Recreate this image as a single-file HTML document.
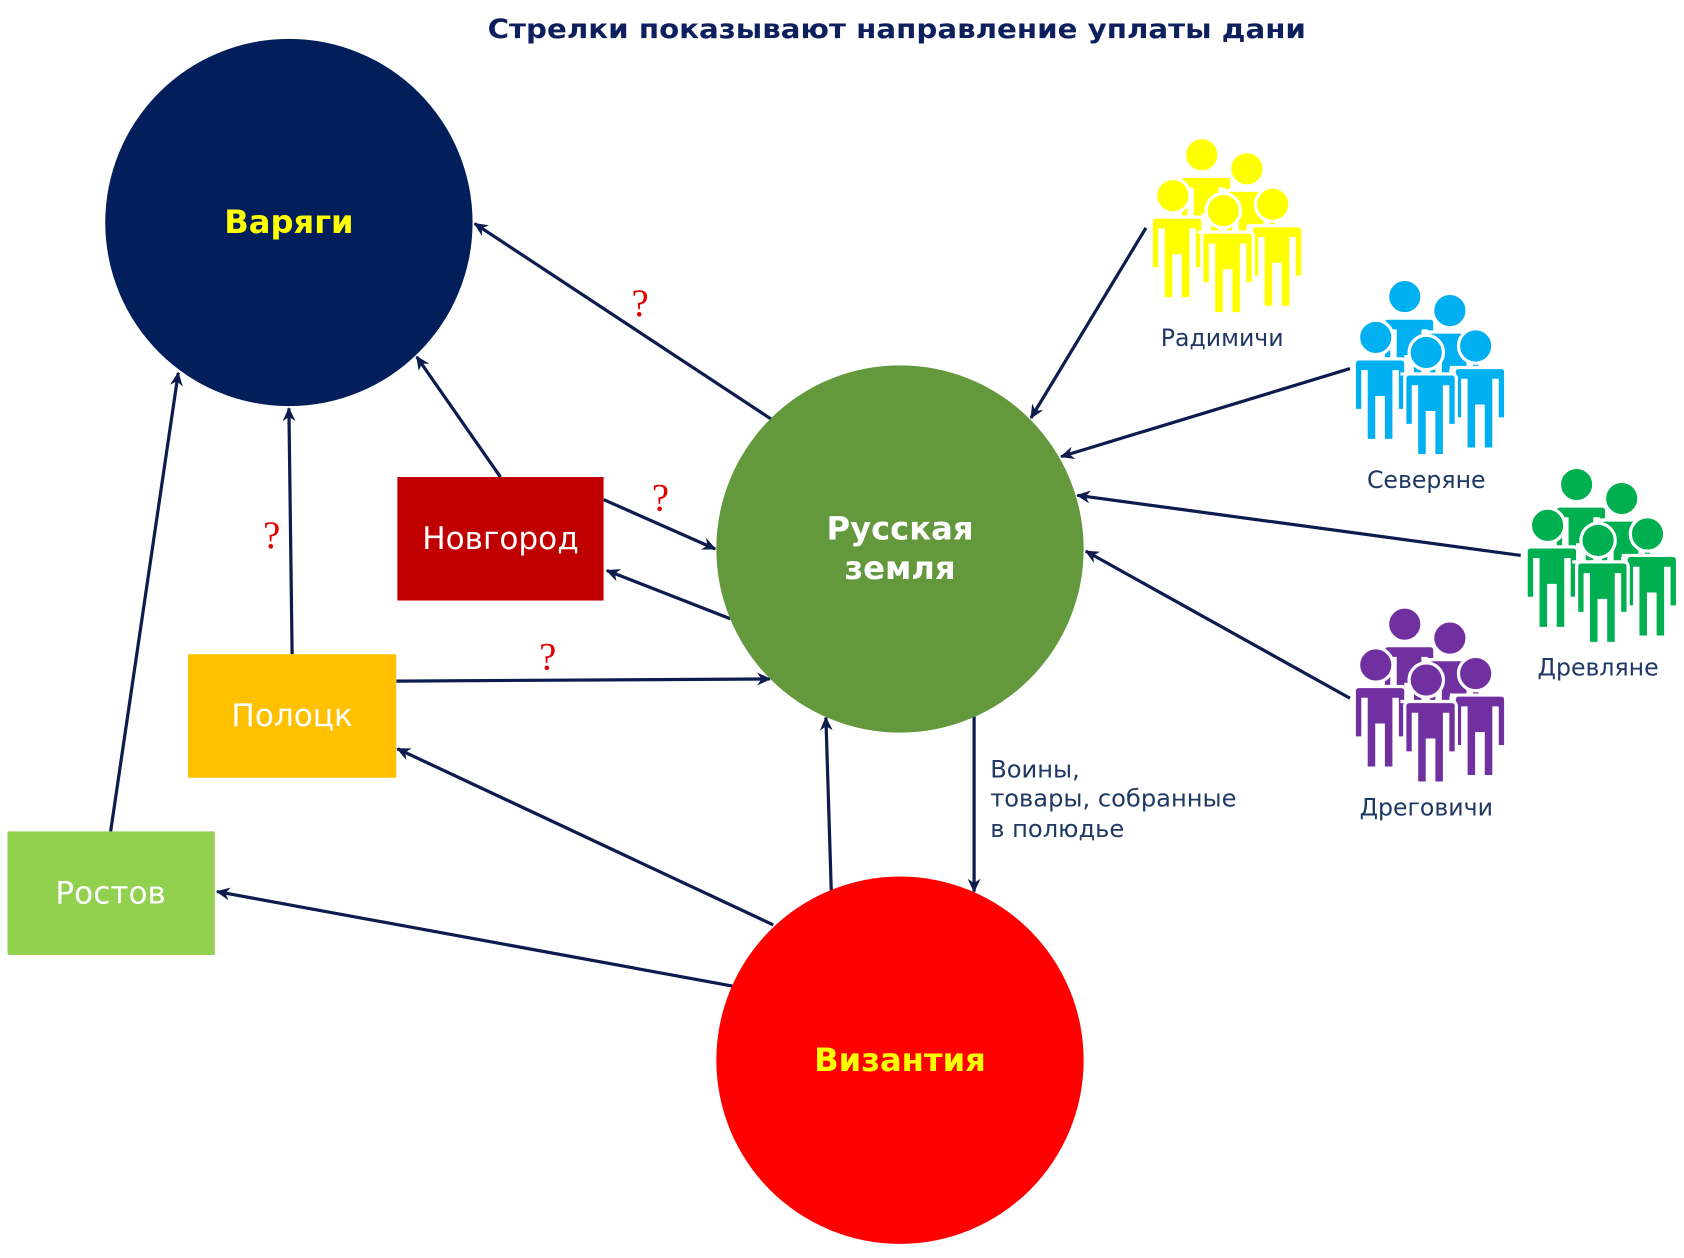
<!DOCTYPE html>
<html><head><meta charset="utf-8"><style>html,body{margin:0;padding:0;background:#fff}svg{display:block}</style></head>
<body>
<svg width="1684" height="1258" viewBox="0 0 1568 1171" xmlns="http://www.w3.org/2000/svg" font-family="'DejaVu Sans','Liberation Sans',sans-serif">
<defs>
<marker id="a" markerWidth="14" markerHeight="12" refX="12" refY="6" orient="auto" markerUnits="userSpaceOnUse">
<path d="M0,0 L13,6 L0,12 L4,6 Z" fill="#0d1c4e"/></marker>
<g id="p">
<circle cx="0" cy="0" r="16" stroke="#fff" stroke-width="3"/>
<path d="M-24,20 h48 a4,4 0 0 1 4,4 v44 h-8 v-36 h-3 v64 h-10 v-40 h-6 v40 h-10 v-64 h-3 v36 h-8 v-44 a4,4 0 0 1 4,-4 z" stroke="#fff" stroke-width="3"/>
</g>
<g id="grp">
<use href="#p" x="51" y="14"/>
<use href="#p" x="93" y="27"/>
<use href="#p" x="24" y="52"/>
<use href="#p" x="117" y="60"/>
<use href="#p" x="71" y="66"/>
</g>
</defs>
<text x="835" y="35" text-anchor="middle" font-weight="bold" font-size="25" fill="#0d1f5c" textLength="762" lengthAdjust="spacingAndGlyphs">Стрелки показывают направление уплаты дани</text>

<g stroke="#0d1c4e" stroke-width="3" marker-end="url(#a)">
<line x1="718" y1="390" x2="442" y2="208"/>
<line x1="466" y1="444" x2="388" y2="332"/>
<line x1="272" y1="609" x2="269" y2="380"/>
<line x1="103" y1="774" x2="166" y2="347"/>
<line x1="562" y1="465" x2="666" y2="511"/>
<line x1="680" y1="576" x2="565" y2="531"/>
<line x1="369" y1="634" x2="717" y2="632"/>
<line x1="720" y1="861" x2="370" y2="697"/>
<line x1="682" y1="918" x2="202" y2="830"/>
<line x1="774" y1="829" x2="769" y2="668"/>
<line x1="907" y1="667" x2="907" y2="830"/>
<line x1="1067" y1="212" x2="960" y2="389"/>
<line x1="1257" y1="343" x2="988" y2="425"/>
<line x1="1416" y1="517" x2="1003" y2="461"/>
<line x1="1257" y1="650" x2="1011" y2="513"/>
</g>

<circle cx="269" cy="207" r="171" fill="#021f5b"/>
<circle cx="838" cy="511" r="171" fill="#63983c"/>
<circle cx="838" cy="987" r="171" fill="#ff0000"/>
<text x="269" y="217" text-anchor="middle" font-weight="bold" font-size="30" fill="#ffff00">Варяги</text>
<text x="838" y="502" text-anchor="middle" font-weight="bold" font-size="30" fill="#fff">Русская</text>
<text x="838" y="539" text-anchor="middle" font-weight="bold" font-size="30" fill="#fff">земля</text>
<text x="838" y="997" text-anchor="middle" font-weight="bold" font-size="30" fill="#ffff00">Византия</text>

<rect x="370" y="444" width="192" height="115" fill="#c00000"/>
<rect x="175" y="609" width="194" height="115" fill="#ffc000"/>
<rect x="7" y="774" width="193" height="115" fill="#92d050"/>
<text x="466" y="511" text-anchor="middle" font-size="29" fill="#fff">Новгород</text>
<text x="272" y="676" text-anchor="middle" font-size="29" fill="#fff">Полоцк</text>
<text x="103" y="841" text-anchor="middle" font-size="29" fill="#fff">Ростов</text>

<g fill="#ffff00" transform="translate(1068,130)"><use href="#grp"/></g>
<g fill="#00b0f0" transform="translate(1257,262)"><use href="#grp"/></g>
<g fill="#00b050" transform="translate(1417,437)"><use href="#grp"/></g>
<g fill="#7030a0" transform="translate(1257,567)"><use href="#grp"/></g>
<g font-size="22" fill="#1f3864" text-anchor="middle">
<text x="1138" y="322">Радимичи</text>
<text x="1328" y="454">Северяне</text>
<text x="1488" y="629">Древляне</text>
<text x="1328" y="759">Дреговичи</text>
</g>
<g font-size="22.5" fill="#1f3864">
<text x="922" y="724">Воины,</text>
<text x="922" y="751">товары, собранные</text>
<text x="922" y="779">в полюдье</text>
</g>
<g font-family="'Liberation Serif',serif" font-size="36" fill="#e00000" text-anchor="middle">
<text x="596" y="294">?</text>
<text x="615" y="475">?</text>
<text x="253" y="510">?</text>
<text x="510" y="623">?</text>
</g>
</svg>
</body></html>
